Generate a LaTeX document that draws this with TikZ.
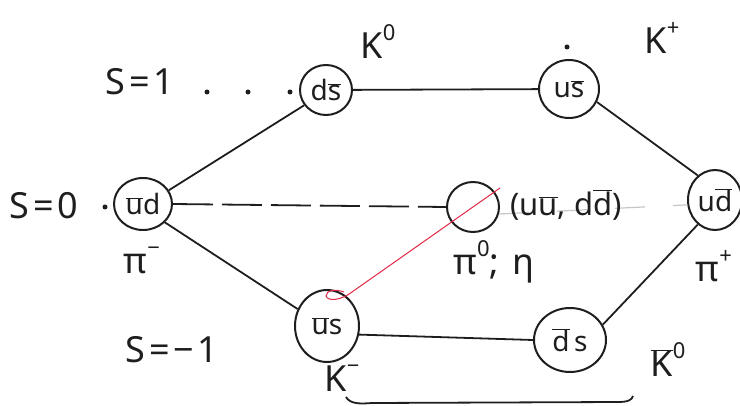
\documentclass[tikz,border=0pt]{standalone}
\usepackage{fontspec}
\setmainfont{Noto Sans}
\usetikzlibrary{shapes.geometric}
\newcommand\ob[1]{\ensuremath{\overline{\mbox{#1}}}}
\newcommand\upr[1]{\raisebox{0.5em}{\fontsize{22}{22}\selectfont #1}}
\definecolor{pen}{RGB}{30,30,30}
\definecolor{redpen}{RGB}{225,40,70}
\begin{document}
\begin{tikzpicture}[x=1pt,y=-1pt,
  meson/.style={ellipse,draw=pen,line width=2pt,inner sep=0pt,text=pen,font=\fontsize{28}{28}\selectfont},
  lbl/.style={text=pen,font=\fontsize{36}{36}\selectfont\addfontfeature{LetterSpace=10}},
  conn/.style={draw=pen,line width=1.8pt},
  dotmark/.style={circle,fill=pen,inner sep=0pt,minimum size=5pt}]
\useasboundingbox (0,0) rectangle (740,406);
% mesons
\node[meson,minimum width=58pt,minimum height=52pt] (pim) at (143,204) {\ob{u}d};
\node[meson,minimum width=52pt,minimum height=50pt] (k0) at (326,90) {d\ob{s}};
\node[meson,minimum width=60pt,minimum height=58pt] (kp) at (569,89) {u\ob{s}};
\node[meson,minimum width=54pt,minimum height=60pt] (pip) at (715,200) {u\ob{d}};
\node[meson,minimum width=52pt,minimum height=50pt] (pi0) at (473,207) {};
\node[meson,minimum width=64pt,minimum height=72pt] (km) at (327,326) {\ob{u}s};
\node[meson,minimum width=72pt,minimum height=64pt] (k0b) at (570,340) {\ob{d}\,s};
% connectors
\draw[conn] (pim.28) -- (k0.215);
\draw[conn] (k0) -- (kp);
\draw[conn] (kp.-25) -- (pip.125);
\draw[conn] (pim.-40) -- (km.150);
\draw[conn] (km.-15) -- (k0b.180);
\draw[conn] (k0b.25) -- (pip.235);
\draw[conn,dash pattern=on 40pt off 9pt] (pim.east) -- (pi0.west);
\draw[gray!45,line width=1.2pt,dash pattern=on 30pt off 28pt] (pi0.-15) -- (pip.190);
% red stroke
\draw[redpen,line width=1pt] (500,188) -- (352,292)
  .. controls (342,300) and (328,302) .. (326,296) .. controls (326,290) and (336,289) .. (344,292);
% labels
\node[lbl] (s1) at (140,82) {S=1};
\node[dotmark] (d1) at (207,92) {};
\node[dotmark] (d2) at (248,92) {};
\node[dotmark] (d3) at (290,92) {};
\node[lbl] (s0) at (44,206) {S=0};
\node[dotmark] (d4) at (105,207) {};
\node[lbl] (sm1) at (172,350) {S=−1};
\node[lbl] (lk0) at (378,42) {K\upr{0}};
\node[dotmark] (d5) at (567,47) {};
\node[lbl] (lkp) at (662,38) {K\upr{+}};
\node[lbl] (lpim) at (142,260) {π\upr{−}};
\node[text=pen,font=\fontsize{31}{31}\selectfont] (mix) at (566,205) {(u\ob{u}, d\ob{d})};
\node[lbl] (lpi0) at (494,262) {π\upr{0}; η};
\node[lbl] (lpip) at (714,266) {π\upr{+}};
\node[lbl] (lkm) at (342,378) {K\upr{−}};
\node[lbl] (lk0b) at (668,360) {\ob{K}\upr{0}};
% bottom bracket
\draw[conn] (346,397) .. controls (350,404) and (360,404) .. (372,403) -- (618,402) .. controls (628,402) and (632,400) .. (633,396);
\end{tikzpicture}
\end{document}
